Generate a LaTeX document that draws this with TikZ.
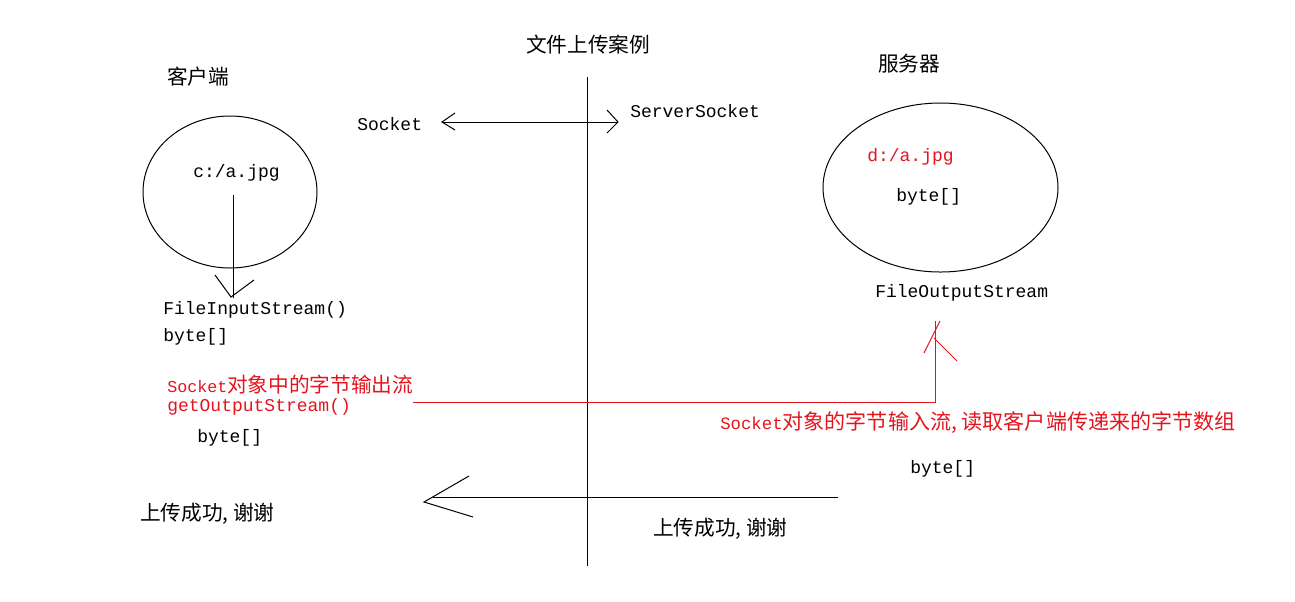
\documentclass[tikz,border=0pt]{standalone}
\usepackage{fontspec}
\newfontfamily\cjk{Noto Sans CJK SC}
\newfontfamily\mono{Liberation Mono}
\definecolor{rd}{RGB}{228,20,30}
\begin{document}
\begin{tikzpicture}[x=0.75pt,y=-0.75pt,
  txt/.style={inner sep=0pt,anchor=west},
  mn/.style={txt,font=\mono\fontsize{13.5}{16}\selectfont},
  cn/.style={txt,font=\cjk\fontsize{15.5}{18}\selectfont},
  ln/.style={line width=0.75pt,black},
  rln/.style={line width=0.75pt,rd}]
\useasboundingbox (0,0) rectangle (1295,601);
% titles
\node[cn] (title) at (526,45) {文件上传案例};
\node[cn] (client) at (167,77) {客户端};
\node[cn] (server) at (878,64) {服务器};
% divider
\coordinate (vtop) at (587,77);
\coordinate (vbot) at (587,566);
\draw[ln] (vtop) -- (vbot);
% socket
\node[mn] (sock) at (357,124) {Socket};
\node[mn] (ssock) at (630,111) {ServerSocket};
\coordinate (dl) at (442,122);
\coordinate (dr) at (618,122);
\coordinate (dla) at (455,113);
\coordinate (dlb) at (455,130);
\coordinate (dra) at (607,110);
\coordinate (drb) at (607,133);
\draw[ln] (dl) -- (dr);
\draw[ln] (dla) -- (dl) -- (dlb);
\draw[ln] (dra) -- (dr) -- (drb);
% client ellipse
\coordinate (ce) at (230,192);
\draw[ln] (ce) ellipse [x radius=87,y radius=76];
\node[mn] (cfile) at (193,173) {c:/a.jpg};
\coordinate (ca) at (233,195);
\coordinate (cb) at (233,298);
\coordinate (ctip) at (231,297);
\coordinate (cl) at (215,275);
\coordinate (cr) at (254,280);
\draw[ln] (ca) -- (cb);
\draw[ln] (cl) -- (ctip) -- (cr);
\node[mn] (fis) at (163,310) {FileInputStream()};
\node[mn] (b1) at (163,337) {byte[]};
\node[txt,text=rd] (out1) at (167,385) {{\mono\fontsize{12.5}{14}\selectfont Socket}{\cjk\fontsize{15.5}{18}\selectfont 对象中的字节输出流}};
\node[mn,text=rd] (out2) at (167,407) {getOutputStream()};
\node[mn] (b2) at (197,438) {byte[]};
% red connector
\coordinate (r1) at (413,402);
\coordinate (r2) at (935,402);
\coordinate (r3) at (935,321);
\draw[rln] (r1) -- (r2) -- (r3);
\coordinate (ra1) at (924,353);
\coordinate (ra2) at (940,321);
\coordinate (rb1) at (934,338);
\coordinate (rb2) at (957,361);
\draw[rln] (ra1) -- (ra2);
\draw[rln] (rb1) -- (rb2);
\node[txt,text=rd] (in1) at (720,423) {{\mono\fontsize{13}{15}\selectfont Socket}{\cjk\fontsize{15.8}{18}\selectfont 对象的字节输入流, 读取客户端传递来的字节数组}};
% server ellipse
\coordinate (se) at (940.5,187.5);
\draw[ln] (se) ellipse [x radius=117.5,y radius=84.5];
\node[mn,text=rd] (sfile) at (867,157) {d:/a.jpg};
\node[mn] (b3) at (896,197) {byte[]};
\node[mn] (fos) at (875,293) {FileOutputStream};
\node[mn] (b4) at (910,469) {byte[]};
% reply arrow
\coordinate (p1) at (838,497);
\coordinate (p2) at (433,497);
\coordinate (ptip) at (424,502);
\coordinate (pa) at (469,476);
\coordinate (pb) at (473,517);
\draw[ln] (p1) -- (p2);
\draw[ln] (pa) -- (ptip) -- (pb);
\node[cn] (ok1) at (140,514) {上传成功, 谢谢};
\node[cn] (ok2) at (653,529) {上传成功, 谢谢};
\end{tikzpicture}
\end{document}
